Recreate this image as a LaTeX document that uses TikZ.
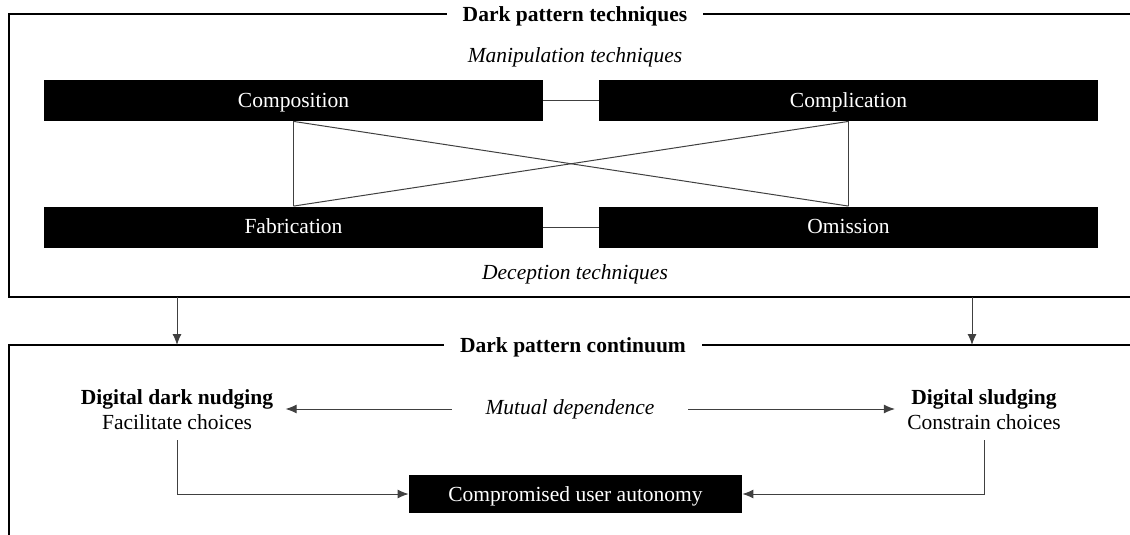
\documentclass[tikz,border=0pt]{standalone}
\usepackage{fontspec}
\setmainfont{Liberation Serif}
\usetikzlibrary{arrows.meta}

\begin{document}
\fontsize{10.75}{12.5}\selectfont
\begin{tikzpicture}[x=0.5pt,y=-0.5pt,
  frame/.style={line width=0.9pt},
  title/.style={fill=white,inner xsep=8pt,font=\bfseries},
  blackbox/.style={fill=black,text=white,inner sep=0pt,text height=8pt,text depth=1pt,
    minimum width=249.5pt,minimum height=20.5pt},
  link/.style={black!75,line width=0.5pt},
  tip/.style={-{Latex[length=5.5pt,width=4.5pt]}},
  pole/.style={align=center,inner xsep=6pt,inner ysep=5pt}]
\useasboundingbox (0,0) rectangle (1130,535);

% techniques frame
\draw[frame] (1130,14) -- (9,14) -- (9,297) -- (1130,297);
\node[title] (tech) at (575,16) {Dark pattern techniques};
\node[font=\itshape] (manip) at (575,57) {Manipulation techniques};
\node[font=\itshape] (decep) at (575,274) {Deception techniques};

\node[blackbox] (compo) at (293.5,100.5) {Composition};
\node[blackbox] (compli) at (848.5,100.5) {Complication};
\node[blackbox] (fabri) at (293.5,227) {Fabrication};
\node[blackbox] (omis) at (848.5,227) {Omission};

\draw[link] (compo) -- (compli);
\draw[link] (fabri) -- (omis);
\draw[link] (compo.south) -- (fabri.north);
\draw[link] (compli.south) -- (omis.north);
\draw[link] (compo.south) -- (omis.north);
\draw[link] (compli.south) -- (fabri.north);

% continuum frame
\draw[frame] (1130,345) -- (9,345) -- (9,536);
\node[title] (cont) at (573,347) {Dark pattern continuum};

\coordinate (techL) at (177,297);
\coordinate (techR) at (972,297);
\coordinate (contL) at (177,345);
\coordinate (contR) at (972,345);
\draw[link,tip] (techL) -- (contL);
\draw[link,tip] (techR) -- (contR);

\node[pole] (nudge) at (177,410) {\textbf{Digital dark nudging}\\Facilitate choices};
\node[pole] (sludge) at (984,410) {\textbf{Digital sludging}\\Constrain choices};
\node[font=\itshape,inner sep=0pt,minimum width=118pt] (mutual) at (570,409) {Mutual dependence};
\draw[link,tip] (mutual.west) -- (nudge.east |- mutual.west);
\draw[link,tip] (mutual.east) -- (sludge.west |- mutual.east);

\node[fill=black,text=white,inner sep=0pt,text height=8pt,text depth=1pt,
  minimum width=166.5pt,minimum height=19pt] (auto) at (575.5,494) {Compromised user autonomy};
\draw[link,tip] (nudge.south) |- (auto.west);
\draw[link,tip] (sludge.south) |- (auto.east);

\end{tikzpicture}
\end{document}
